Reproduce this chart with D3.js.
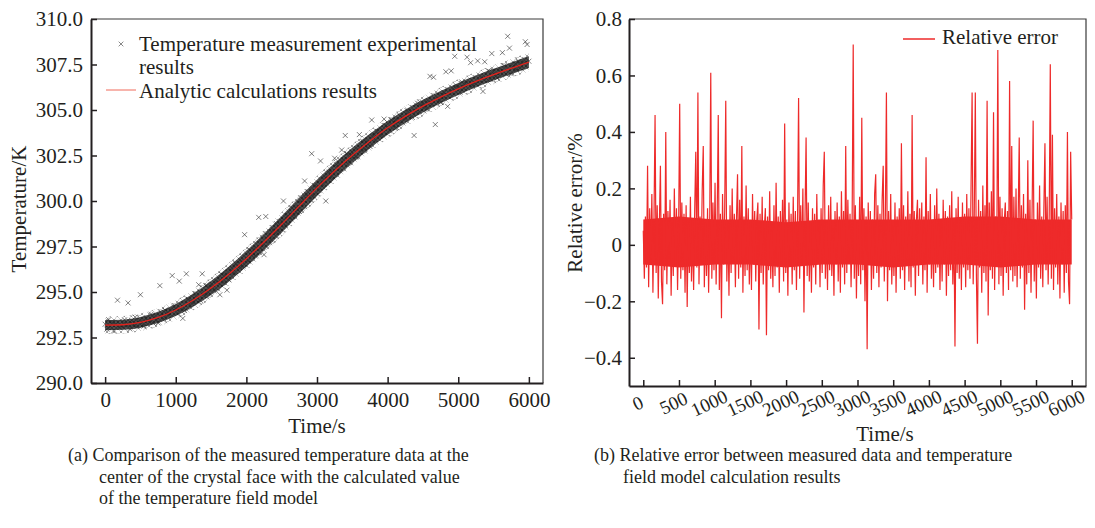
<!DOCTYPE html>
<html>
<head>
<meta charset="utf-8">
<script src="https://cdn.jsdelivr.net/npm/d3@7"></script>
<style>
  body { margin: 0; background: #fff; }
  svg text { font-family: "Liberation Serif", "Times New Roman", serif; fill: #231f20; }
</style>
</head>
<body>
<div id="chart"></div>
<script>
// ANALYTIC CURVE (K), KNOTS READ EVERY 250 s
analyticTime = [0,250,500,750,1000,1250,1500,1750,2000,2250,2500,2750,3000,
                3250,3500,3750,4000,4250,4500,4750,5000,5250,5500,5750,6000];
analyticTemp = [293.18,293.20,293.33,293.60,294.01,294.56,295.22,295.98,296.83,297.75,298.72,299.73,300.72,
                301.65,302.51,303.30,304.02,304.65,305.21,305.71,306.16,306.57,306.94,307.29,307.63];

// DENSE CORE OF THE MEASURED CLOUD (K), READ AT THE SAME KNOTS
measuredLow  = [292.90,292.92,293.04,293.29,293.68,294.20,294.83,295.57,296.40,297.30,298.26,299.27,300.27,
                301.21,302.09,302.90,303.64,304.29,304.86,305.37,305.83,306.25,306.62,306.97,307.31];
measuredHigh = [293.46,293.48,293.62,293.91,294.34,294.92,295.61,296.39,297.26,298.20,299.18,300.19,301.17,
                302.09,302.93,303.70,304.40,305.01,305.56,306.05,306.49,306.89,307.26,307.61,307.95];

// LOOSER GREY HALO AROUND THE CORE (K)
haloLow  = [292.70,292.72,292.84,293.09,293.48,294.00,294.63,295.37,296.20,297.10,298.06,299.07,300.07,
            301.01,301.89,302.70,303.44,304.09,304.66,305.17,305.63,306.05,306.42,306.77,307.11];
haloHigh = [293.66,293.68,293.82,294.11,294.54,295.12,295.81,296.59,297.46,298.40,299.38,300.39,301.37,
            302.29,303.13,303.90,304.60,305.21,305.76,306.25,306.69,307.09,307.46,307.81,308.15];

// MEASURED TEMPERATURE (K), ONE READING EVERY 25 s
measuredStep = 25;
measuredTemp = [
  293.23,292.96,293.48,293.11,293.33,292.88,293.21,294.55,293.05,293.17,
  293.08,293.47,293.21,294.40,292.97,293.44,293.22,293.62,293.11,293.39,
  294.85,293.31,293.13,293.52,293.45,293.33,293.78,293.31,293.63,293.47,
  293.30,295.35,293.83,293.55,294.00,293.80,293.76,294.01,295.90,294.17,
  294.06,293.85,295.60,294.10,293.55,293.98,296.00,294.61,294.30,294.48,
  294.44,294.89,294.67,295.40,294.54,296.00,294.90,295.35,294.90,295.22,
  295.40,295.25,295.12,295.56,295.53,294.85,295.97,295.54,295.91,295.10,
  295.68,296.11,296.30,296.07,296.56,296.40,296.40,296.70,296.43,298.15,
  296.88,296.70,297.31,297.03,297.34,296.98,297.40,299.10,297.42,297.63,
  297.05,299.15,297.92,298.13,297.86,298.41,298.27,298.76,298.34,298.69,
  298.90,300.00,298.67,299.13,299.13,299.09,299.62,299.22,299.61,299.53,
  299.43,299.87,300.08,301.10,300.37,300.22,300.23,302.60,300.29,300.82,
  300.77,300.59,302.20,300.92,301.23,300.00,301.30,301.58,301.31,301.53,
  302.35,302.00,301.80,302.00,302.80,302.25,303.60,302.58,302.15,302.49,
  302.69,302.54,302.42,302.86,303.65,302.77,303.27,302.85,303.22,303.12,
  303.00,304.45,303.59,303.35,303.83,303.65,303.64,303.92,304.50,304.15,
  304.07,303.86,304.45,304.13,304.41,304.03,304.42,304.67,304.37,304.56,
  304.53,304.97,304.74,304.91,304.59,303.60,304.93,305.37,304.91,305.22,
  305.39,305.21,305.06,305.47,306.85,305.32,306.80,304.20,305.69,305.56,
  305.41,305.80,305.95,307.10,305.20,305.93,307.15,306.15,307.95,306.32,
  306.21,305.98,306.54,306.20,306.46,307.90,306.43,307.60,306.34,306.50,
  306.45,307.70,306.62,306.77,306.02,307.65,306.73,307.16,306.68,308.10,
  307.12,306.93,306.76,307.16,307.09,308.15,307.44,306.98,309.05,308.40,
  306.99,307.36,307.51,307.22,307.67,307.45,307.40,307.65,308.75,308.60,
  307.68
];

// RELATIVE ERROR (%), ONE VALUE EVERY 15 s
errorStep = 15;
relError = [
  0.05,-0.12,0.10,-0.08,0.28,-0.15,0.13,-0.06,0.18,-0.17,0.09,0.46,-0.10,0.14,-0.19,0.07,0.28,-0.13,-0.21,0.11,
  -0.09,0.40,-0.14,0.12,-0.05,0.16,-0.18,0.08,-0.11,0.20,-0.07,0.13,-0.16,0.06,0.50,-0.12,0.15,-0.09,0.11,-0.17,
  0.14,-0.22,0.09,-0.10,0.17,-0.13,0.06,-0.16,0.12,0.33,-0.08,0.54,-0.14,0.10,-0.06,0.19,0.35,-0.15,0.08,-0.11,
  0.13,-0.17,0.07,0.61,-0.12,0.15,-0.09,0.22,-0.14,0.10,0.46,-0.16,0.11,-0.26,0.18,-0.07,0.12,0.51,-0.13,0.08,
  -0.18,0.14,-0.10,0.20,-0.06,0.11,-0.15,0.09,0.25,-0.12,0.16,-0.08,0.35,-0.17,0.10,-0.11,0.21,-0.09,0.13,-0.14,
  0.07,-0.16,0.18,-0.07,0.12,-0.13,0.09,0.15,-0.30,0.11,-0.10,0.17,-0.14,0.06,0.13,-0.32,0.10,-0.09,0.19,-0.12,
  0.08,-0.15,0.14,-0.11,0.22,-0.08,0.10,-0.17,0.12,-0.06,0.16,-0.13,0.43,-0.10,0.09,-0.18,0.15,-0.07,0.11,-0.14,
  0.17,-0.09,0.12,-0.16,0.08,0.52,-0.12,0.14,-0.07,0.20,-0.24,0.10,0.38,-0.11,0.15,-0.13,0.07,-0.17,0.13,-0.08,
  0.11,-0.14,0.18,-0.06,0.09,-0.15,0.13,-0.10,0.21,0.33,-0.12,0.08,-0.16,0.14,-0.09,0.17,-0.11,0.06,-0.18,0.12,
  -0.07,0.15,-0.13,0.10,-0.17,0.19,-0.08,0.12,-0.14,0.35,-0.10,0.16,-0.06,0.11,-0.15,0.09,0.71,-0.12,0.14,-0.19,
  0.08,-0.11,0.17,-0.14,0.45,-0.09,0.13,-0.20,0.10,-0.37,0.15,-0.07,0.12,-0.16,0.09,-0.12,0.18,0.25,-0.10,0.14,
  -0.15,0.11,-0.08,0.16,0.28,-0.13,0.09,0.54,-0.20,0.12,-0.09,0.18,-0.14,0.07,-0.11,0.15,-0.17,0.10,-0.06,0.13,
  -0.12,0.36,-0.09,0.14,-0.16,0.10,-0.07,0.19,-0.13,0.11,-0.15,0.46,-0.08,0.12,-0.18,0.09,0.16,-0.11,0.13,-0.06,
  0.15,-0.14,0.10,-0.09,0.31,-0.17,0.12,-0.07,0.18,-0.12,0.08,-0.15,0.14,-0.10,0.20,-0.08,0.11,-0.16,0.09,-0.13,
  0.16,-0.07,0.12,-0.18,0.10,-0.11,0.14,-0.09,0.19,-0.14,0.08,-0.36,0.13,-0.10,0.17,-0.12,0.09,-0.16,0.15,-0.08,
  0.11,-0.15,0.18,-0.09,0.13,-0.12,0.20,0.54,-0.14,0.10,0.54,-0.11,-0.35,0.16,-0.08,0.12,-0.17,0.21,-0.10,0.14,
  -0.13,0.51,-0.25,0.15,-0.09,0.19,-0.12,0.47,-0.16,0.10,-0.07,0.69,-0.14,0.17,-0.11,0.13,-0.18,0.08,0.15,-0.10,
  0.12,-0.16,0.58,-0.09,0.35,-0.13,0.17,-0.11,0.20,-0.15,0.09,0.38,-0.12,0.14,-0.08,0.18,-0.23,0.11,-0.14,0.30,
  -0.10,0.16,-0.17,0.12,0.44,-0.13,0.09,-0.19,0.15,-0.08,0.21,-0.12,0.10,-0.15,0.13,0.36,-0.09,0.17,-0.14,0.11,
  0.64,-0.12,0.39,-0.16,0.13,-0.08,0.18,-0.14,0.10,-0.19,0.15,-0.07,0.12,-0.17,0.14,-0.10,0.40,-0.13,-0.21,0.33,
  0.09
];

// DENSE CORE OF THE ERROR TRACE (%), READ EVERY 500 s
errorBandTime = [0,500,1000,1500,2000,2500,3000,3500,4000,4500,5000,5500,6000];
errorBandLow  = [-0.07,-0.08,-0.07,-0.07,-0.08,-0.07,-0.07,-0.08,-0.07,-0.07,-0.08,-0.07,-0.07];
errorBandHigh = [0.09,0.10,0.09,0.09,0.08,0.09,0.09,0.09,0.09,0.10,0.10,0.09,0.09];

// TICKS
leftXTicks = [0,1000,2000,3000,4000,5000,6000];
leftYTicks = [290,292.5,295,297.5,300,302.5,305,307.5,310];
rightXTicks = [0,500,1000,1500,2000,2500,3000,3500,4000,4500,5000,5500,6000];
rightYTicks = [-0.4,-0.2,0,0.2,0.4,0.6,0.8];

// TEXTS
leftLegend = ["Temperature measurement experimental", "results", "Analytic calculations results"];
rightLegend = "Relative error";
captionA = ["(a) Comparison of the measured temperature data at the",
            "center of the crystal face with the calculated value",
            "of the temperature field model"];
captionB = ["(b) Relative error between measured data and temperature",
            "field model calculation results"];

// SVG
svg = d3.select("#chart")
        .append("svg")
          .attr("width", 1095)
          .attr("height", 528);

axisColor = "#231f20";
errorRed = "#ee2a2a";

// PATTERNS OF SMALL CROSSES FOR THE SCATTER CLOUD
defs = svg.append("defs");
pattern = defs.append("pattern")
      .attr("id", "crosses")
      .attr("patternUnits", "userSpaceOnUse")
      .attr("width", 4)
      .attr("height", 4);
pattern.append("rect").attr("width", 4).attr("height", 4).attr("fill", "#3a3a3a");
pattern.append("path")
    .attr("d", "M0.5,0.5L3.5,3.5M3.5,0.5L0.5,3.5")
    .attr("stroke", "#0c0c0c")
    .attr("stroke-width", 0.8);

halo = defs.append("pattern")
      .attr("id", "halo")
      .attr("patternUnits", "userSpaceOnUse")
      .attr("width", 7)
      .attr("height", 6);
halo.append("path")
    .attr("d", "M0.5,0.5L3.5,3.5M3.5,0.5L0.5,3.5M4,3L6.5,5.5M6.5,3L4,5.5")
    .attr("stroke", "#555")
    .attr("stroke-width", 0.7);

// LEFT PANEL SCALES
xL = d3.scaleLinear().domain([-200, 6200]).range([91, 543]);
yL = d3.scaleLinear().domain([290, 310]).range([383, 19]);

// RIGHT PANEL SCALES
xR = d3.scaleLinear().domain([-200, 6200]).range([629, 1086]);
yR = d3.scaleLinear().domain([-0.5, 0.8]).range([386, 19]);

// FRAME (TOP + RIGHT, THIN)
function frame(x, y) {
    svg.append("path")
        .attr("d", "M" + x.range()[0] + "," + y.range()[1] + "H" + x.range()[1] + "V" + y.range()[0])
        .attr("fill", "none")
        .attr("stroke", "#3a3a3a")
        .attr("stroke-width", 1.2);
}
frame(xL, yL);
frame(xR, yR);

// LEFT HALO + DENSE CORE
function band(low, high, fill, op) {
    svg.append("path")
        .datum(analyticTime)
        .attr("fill", fill)
        .attr("opacity", op)
        .attr("d", d3.area()
            .x(function(d) { return xL(d); })
            .y0(function(d, i) { return yL(low[i]); })
            .y1(function(d, i) { return yL(high[i]); })
            .curve(d3.curveMonotoneX));
}
band(haloLow, haloHigh, "url(#halo)", 0.8);
band(measuredLow, measuredHigh, "url(#crosses)", 0.9);

// LEFT SCATTER
scatter = svg.append("g");
scatter.selectAll("path")
    .data(measuredTemp)
    .enter()
    .append("path")
      .attr("d", d3.symbol(d3.symbolX, 18))
      .attr("transform", function(d, i) { return "translate(" + xL(i * measuredStep) + "," + yL(d) + ")"; })
      .attr("fill", "none")
      .attr("stroke", "#2a2a2a")
      .attr("stroke-width", 0.7)
      .attr("opacity", 0.85);

// LEFT ANALYTIC LINE
analytic = analyticTime.map(function(t, i) { return [t, analyticTemp[i]]; });
svg.append("path")
    .datum(analytic)
    .attr("fill", "none")
    .attr("stroke", "#e3221c")
    .attr("stroke-width", 1.3)
    .attr("d", d3.line()
        .x(function(d) { return xL(d[0]); })
        .y(function(d) { return yL(d[1]); })
        .curve(d3.curveMonotoneX));

// RIGHT DENSE CORE
svg.append("path")
    .datum(errorBandTime)
    .attr("fill", errorRed)
    .attr("d", d3.area()
        .x(function(d) { return xR(d); })
        .y0(function(d, i) { return yR(errorBandLow[i]); })
        .y1(function(d, i) { return yR(errorBandHigh[i]); }));

// RIGHT ERROR LINE
svg.append("path")
    .datum(relError)
    .attr("fill", "none")
    .attr("stroke", errorRed)
    .attr("stroke-width", 1.2)
    .attr("d", d3.line()
        .x(function(d, i) { return xR(i * errorStep); })
        .y(function(d) { return yR(d); }));

// AXES
function styleAxis(g, size) {
    g.select(".domain").attr("stroke", axisColor).attr("stroke-width", 2);
    g.selectAll(".tick line").attr("stroke", axisColor).attr("stroke-width", 1.5);
    g.selectAll("text")
        .attr("fill", axisColor)
        .style("font-family", "'Liberation Serif', 'Times New Roman', serif")
        .style("font-size", size + "px");
}

svg.append("g")
    .attr("transform", "translate(91,0)")
    .call(d3.axisLeft(yL).tickValues(leftYTicks).tickFormat(d3.format(".1f"))
        .tickSizeInner(-6).tickSizeOuter(0).tickPadding(8))
    .call(styleAxis, 21);

svg.append("g")
    .attr("transform", "translate(0,383)")
    .call(d3.axisBottom(xL).tickValues(leftXTicks).tickFormat(d3.format("d"))
        .tickSizeInner(-6).tickSizeOuter(0).tickPadding(9))
    .call(styleAxis, 21);

svg.append("g")
    .attr("transform", "translate(629,0)")
    .call(d3.axisLeft(yR).tickValues(rightYTicks)
        .tickFormat(function(d) { return d === 0 ? "0" : d3.format(".1f")(d).replace("-", "\u2212"); })
        .tickSizeInner(-6).tickSizeOuter(0).tickPadding(7))
    .call(styleAxis, 21);

xAxisR = svg.append("g")
    .attr("transform", "translate(0,386)")
    .call(d3.axisBottom(xR).tickValues(rightXTicks).tickFormat(d3.format("d"))
        .tickSizeInner(-6).tickSizeOuter(0))
    .call(styleAxis, 19);
xAxisR.selectAll(".tick text")
    .attr("y", null)
    .attr("dy", "0.35em")
    .attr("text-anchor", "middle")
    .attr("transform", "translate(-6,17) rotate(-25)");

// AXIS TITLES
svg.append("text")
    .text("Temperature/K")
    .attr("transform", "translate(26,209) rotate(-90)")
    .attr("text-anchor", "middle")
    .style("font-size", "21px");

svg.append("text")
    .text("Time/s")
    .attr("x", 317)
    .attr("y", 433)
    .attr("text-anchor", "middle")
    .style("font-size", "21px");

svg.append("text")
    .text("Relative error/%")
    .attr("transform", "translate(582,203) rotate(-90)")
    .attr("text-anchor", "middle")
    .style("font-size", "21px");

svg.append("text")
    .text("Time/s")
    .attr("x", 885)
    .attr("y", 441)
    .attr("text-anchor", "middle")
    .style("font-size", "21px");

// LEFT LEGEND
svg.append("path")
    .attr("d", d3.symbol(d3.symbolX, 16))
    .attr("transform", "translate(121,44)")
    .attr("fill", "none")
    .attr("stroke", "#555")
    .attr("stroke-width", 0.7);

svg.append("line")
    .attr("x1", 106).attr("x2", 136)
    .attr("y1", 90).attr("y2", 90)
    .attr("stroke", "#f06a5a")
    .attr("stroke-width", 1);

svg.selectAll(".legL")
    .data(leftLegend)
    .enter()
    .append("text")
      .attr("class", "legL")
      .attr("x", 139)
      .attr("y", function(d, i) { return [51, 74, 98][i]; })
      .style("font-size", "21px")
      .text(function(d) { return d; });

// RIGHT LEGEND
svg.append("line")
    .attr("x1", 903).attr("x2", 935)
    .attr("y1", 39).attr("y2", 39)
    .attr("stroke", errorRed)
    .attr("stroke-width", 1.5);

svg.append("text")
    .text(rightLegend)
    .attr("x", 942)
    .attr("y", 44)
    .style("font-size", "21px");

// CAPTIONS
svg.selectAll(".capA")
    .data(captionA)
    .enter()
    .append("text")
      .attr("class", "capA")
      .attr("x", function(d, i) { return i === 0 ? 68 : 99; })
      .attr("y", function(d, i) { return 461 + i * 21.5; })
      .style("font-size", "18px")
      .text(function(d) { return d; });

svg.selectAll(".capB")
    .data(captionB)
    .enter()
    .append("text")
      .attr("class", "capB")
      .attr("x", function(d, i) { return i === 0 ? 594 : 623; })
      .attr("y", function(d, i) { return 461 + i * 21.5; })
      .style("font-size", "18px")
      .text(function(d) { return d; });
</script>
</body>
</html>
